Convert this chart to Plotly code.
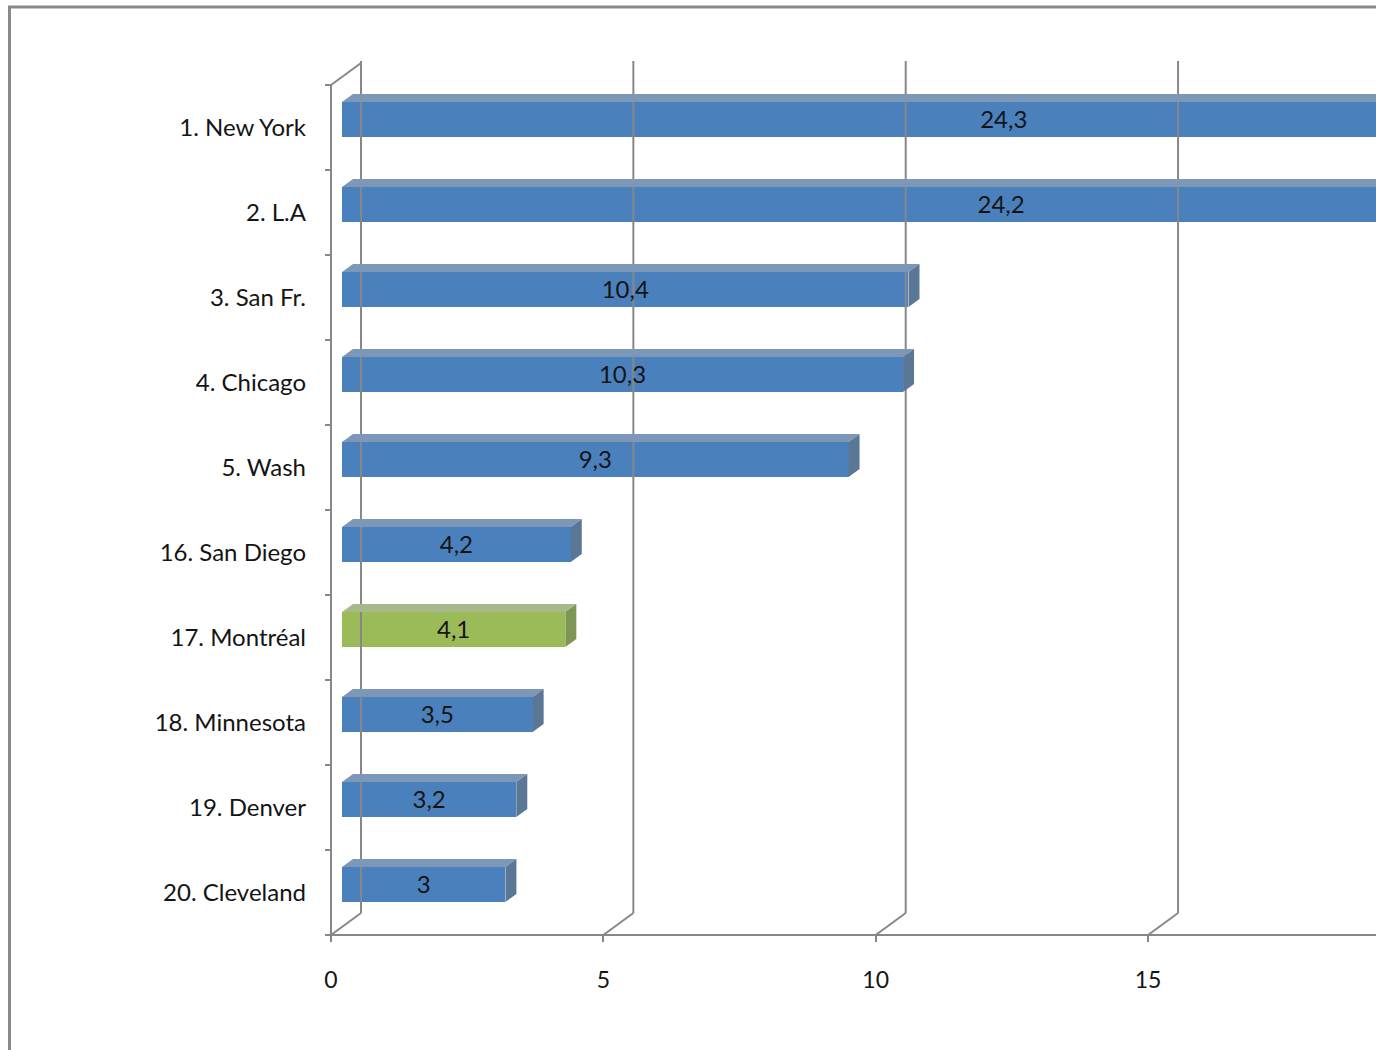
import plotly.graph_objects as go

# ---- data ----
cities = ["1. New York", "2. L.A", "3. San Fr.", "4. Chicago", "5. Wash",
          "16. San Diego", "17. Montréal", "18. Minnesota", "19. Denver", "20. Cleveland"]
values = [24.3, 24.2, 10.4, 10.3, 9.3, 4.2, 4.1, 3.5, 3.2, 3.0]
highlight = "17. Montréal"
x_ticks = [0, 5, 10, 15]
x_max = 20

# ---- geometry (pixel-like layout constants) ----
W, H = 1376, 1050
L, B = 300, 100              # margins
PLOT_H = H - B               # y data == pixel y
PX = 54.47                   # pixels per unit on value axis
X0 = 331                     # pixel of value 0 on front plane
band = 85.0
band_top = 85.0
depth_x, depth_y = 30 / PX, 22.0   # full floor depth
bar_off_x, bar_off_y = 11 / PX, 8.0
bar_dx, bar_dy = 11 / PX, 8.0
bar_h = 35.0
floor_y = band_top + band * len(cities)
wall_top = 61.0

GRID = "#878787"
BLUE = dict(front="#4A81BD", top="#7D97B9", side="#5B7796")
GREEN = dict(front="#9BBB59", top="#A7B98A", side="#7E9555")
FONT = "Lato"
TXT = "#141414"

fig = go.Figure()

def line(xs, ys):
    fig.add_trace(go.Scatter(x=xs, y=ys, mode="lines", line=dict(color=GRID, width=2),
                             hoverinfo="skip", showlegend=False))

# walls / grid
line([0, 0], [band_top, floor_y])
line([0, depth_x], [band_top, band_top - depth_y])
line([0, x_max], [floor_y, floor_y])
for k in x_ticks + [x_max]:
    line([k, k + depth_x], [floor_y, floor_y - depth_y])
    line([k + depth_x, k + depth_x], [floor_y - depth_y, wall_top])

centers = [band_top + band * (i + 0.5) for i in range(len(cities))]

# bars
for c, v, yc in zip(cities, values, centers):
    col = GREEN if c == highlight else BLUE
    fy = yc - bar_off_y          # front face center
    top, bot = fy - bar_h / 2, fy + bar_h / 2
    xl, xr = bar_off_x, bar_off_x + v
    # top face
    fig.add_trace(go.Scatter(x=[xl, xr, xr + bar_dx, xl + bar_dx, xl],
                             y=[top, top, top - bar_dy, top - bar_dy, top],
                             fill="toself", fillcolor=col["top"], mode="lines",
                             line=dict(width=0, color=col["top"]), hoverinfo="skip", showlegend=False))
    # side face
    fig.add_trace(go.Scatter(x=[xr, xr, xr + bar_dx, xr + bar_dx, xr],
                             y=[top, bot, bot - bar_dy, top - bar_dy, top],
                             fill="toself", fillcolor=col["side"], mode="lines",
                             line=dict(width=0, color=col["side"]), hoverinfo="skip", showlegend=False))

fig.add_trace(go.Bar(
    x=values, y=[yc - bar_off_y for yc in centers], base=bar_off_x, width=bar_h,
    orientation="h",
    marker=dict(color=[GREEN["front"] if c == highlight else BLUE["front"] for c in cities],
                line=dict(width=0)),
    hoverinfo="skip", showlegend=False))

fig.add_trace(go.Scatter(
    x=[bar_off_x + v / 2 for v in values], y=[yc - bar_off_y + 2.5 for yc in centers],
    mode="text", text=[("%g" % v).replace(".", ",") for v in values],
    textfont=dict(family=FONT, size=24, color=TXT),
    hoverinfo="skip", showlegend=False))

fig.update_layout(
    width=W, height=H, margin=dict(l=L, r=0, t=0, b=B),
    paper_bgcolor="white", plot_bgcolor="white", bargap=0,
    xaxis=dict(range=[(L - X0) / PX, (W - X0) / PX], anchor="free",
               position=(PLOT_H - floor_y) / PLOT_H,
               tickvals=x_ticks, ticktext=[str(t) for t in x_ticks],
               ticks="outside", ticklen=6, tickwidth=2, tickcolor=GRID,
               showline=False, showgrid=False, zeroline=False,
               ticklabelstandoff=18,
               tickfont=dict(family=FONT, size=23, color=TXT)),
    yaxis=dict(range=[PLOT_H, 0], anchor="free", position=(X0 - L) / (W - L),
               tickvals=centers, ticktext=cities, ticks="", showline=False,
               showgrid=False, zeroline=False, ticklabelstandoff=25,
               minor=dict(tickmode="array",
                          tickvals=[band_top + band * j for j in range(len(cities) + 1)],
                          ticks="outside", ticklen=6, tickwidth=2, tickcolor=GRID,
                          showgrid=False),
               tickfont=dict(family=FONT, size=24, color=TXT)),
    shapes=[dict(type="path", xref="paper", yref="paper",
                 path="M %f %f L %f %f L %f %f" % ((9.5 - L) / (W - L), (PLOT_H - H - 10) / PLOT_H,
                                                   (9.5 - L) / (W - L), (PLOT_H - 7) / PLOT_H,
                                                   (W + 10 - L) / (W - L), (PLOT_H - 7) / PLOT_H),
                 line=dict(color="#898989", width=3))],
)

fig.write_html("out.html")
